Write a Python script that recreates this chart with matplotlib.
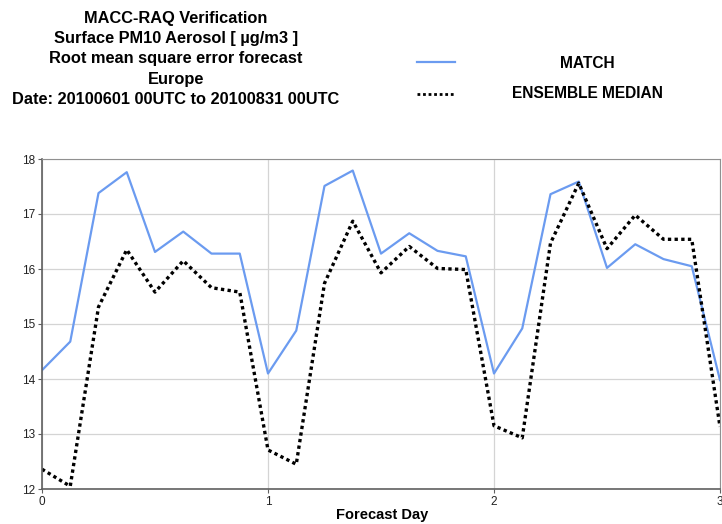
import matplotlib
matplotlib.use('Agg')
import matplotlib.pyplot as plt
import numpy as np

matplotlib.rcParams.update({'font.family': ['Liberation Sans', 'DejaVu Sans']})

# 3-hourly forecast steps over three days
forecast_day = [0, 0.125, 0.25, 0.375, 0.5, 0.625, 0.75, 0.875,
                1, 1.125, 1.25, 1.375, 1.5, 1.625, 1.75, 1.875,
                2, 2.125, 2.25, 2.375, 2.5, 2.625, 2.75, 2.875, 3]

rmse_match = [14.16, 14.68, 17.38, 17.76, 16.31, 16.68, 16.28, 16.28,
              14.10, 14.88, 17.51, 17.79, 16.28, 16.65, 16.33, 16.23,
              14.10, 14.92, 17.36, 17.59, 16.02, 16.45, 16.18, 16.05, 13.98]

rmse_ens_median = [12.36, 12.05, 15.31, 16.35, 15.58, 16.15, 15.66, 15.58,
                   12.71, 12.45, 15.74, 16.87, 15.93, 16.41, 16.01, 15.99,
                   13.15, 12.93, 16.47, 17.56, 16.37, 16.98, 16.54, 16.54, 13.13]

title_lines = ['MACC-RAQ Verification',
               'Surface PM10 Aerosol [ \u00b5g/m3 ]',
               'Root mean square error forecast',
               'Europe',
               'Date: 20100601 00UTC to 20100831 00UTC']

W, H = 722, 524
fig = plt.figure(figsize=(W / 100, H / 100), dpi=100)
ax = fig.add_axes([42 / W, (H - 489) / H, 678 / W, 330 / H])

blue = '#6b9bf0'
ax.plot(forecast_day, rmse_match, color=blue, lw=1.6)
ax.plot(forecast_day, rmse_ens_median, color='black', lw=2.4, ls=(0, (1, 1)))

ax.set_xlim(0, 3)
ax.set_ylim(12, 18)
ax.set_xticks([0, 1, 2, 3])
ax.set_yticks([12, 13, 14, 15, 16, 17, 18])
ax.grid(True, color='#d4d4d4', lw=0.9)
ax.set_axisbelow(True)
ax.tick_params(labelsize=8.5, length=3, width=0.8, color='#606060',
               labelcolor='#222222', pad=2)
for side in ['top', 'right']:
    ax.spines[side].set_color('#909090')
for side in ['left', 'bottom']:
    ax.spines[side].set_color('#606060')
    ax.spines[side].set_linewidth(1.2)

fig.text(382 / W, 1 - 515 / H, 'Forecast Day', ha='center', va='center',
         fontsize=10.5, fontweight='bold')

for i, line in enumerate(title_lines):
    fig.text(176 / W, 1 - (18 + 20.5 * i) / H, line, ha='center', va='center',
             fontsize=11.8, fontweight='bold')

# legend drawn by hand in figure coordinates
fig.add_artist(plt.Line2D([417 / W, 455 / W], [1 - 62 / H] * 2, color=blue, lw=1.6))
fig.add_artist(plt.Line2D([417 / W, 455 / W], [1 - 94 / H] * 2, color='black',
                          lw=2.0, ls=(0, (1, 1))))
fig.text(587 / W, 1 - 63 / H, 'MATCH', ha='center', va='center',
         fontsize=11.2, fontweight='bold')
fig.text(587 / W, 1 - 94 / H, 'ENSEMBLE MEDIAN', ha='center', va='center',
         fontsize=11.2, fontweight='bold')

fig.savefig('out.png', dpi=100)
